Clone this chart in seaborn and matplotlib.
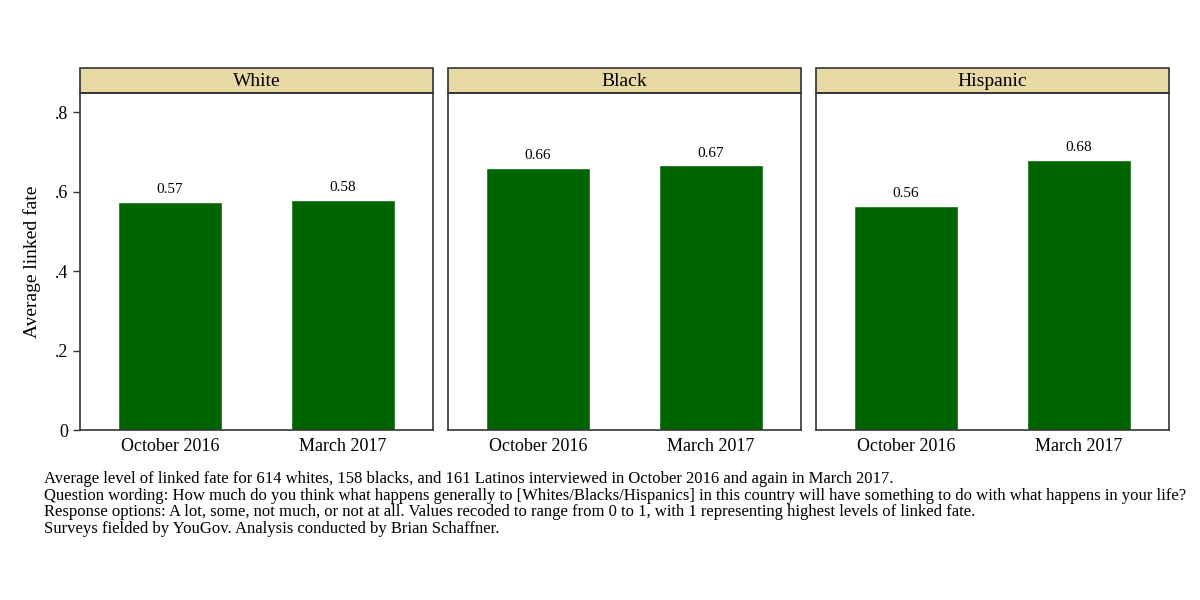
import pandas as pd
import matplotlib.pyplot as plt
import seaborn as sns
from matplotlib.patches import Rectangle

groups = ["White", "Black", "Hispanic"]
waves = ["October 2016", "March 2017"]
white_vals = [0.574, 0.579]
black_vals = [0.660, 0.666]
hispanic_vals = [0.564, 0.680]
yticks = [0, 0.2, 0.4, 0.6, 0.8]
ytick_labels = ["0", ".2", ".4", ".6", ".8"]

caption = (
    "Average level of linked fate for 614 whites, 158 blacks, and 161 Latinos interviewed in October 2016 and again in March 2017.\n"
    "Question wording: How much do you think what happens generally to [Whites/Blacks/Hispanics] in this country will have something to do with what happens in your life?\n"
    "Response options: A lot, some, not much, or not at all. Values recoded to range from 0 to 1, with 1 representing highest levels of linked fate.\n"
    "Surveys fielded by YouGov. Analysis conducted by Brian Schaffner."
)

df = pd.DataFrame({
    "group": [g for g in groups for _ in waves],
    "wave": waves * 3,
    "value": white_vals + black_vals + hispanic_vals,
})

sns.set_theme(style="white")
plt.rcParams["font.family"] = ["Liberation Serif", "DejaVu Serif"]
plt.rcParams["text.color"] = "black"
plt.rcParams["axes.labelcolor"] = "black"

g = sns.catplot(data=df, x="wave", y="value", col="group", col_order=groups,
                kind="bar", color="#006400", saturation=1, width=0.6,
                errorbar=None, height=6, aspect=2 / 3)
fig = g.figure
fig.set_size_inches(12, 6)
fig.subplots_adjust(left=0.0667, right=0.974, bottom=0.2833, top=0.845, wspace=0.0425)

edge = "#333333"
for i, (ax, name) in enumerate(zip(g.axes.flat, groups)):
    ax.set_title("")
    ax.set_xlabel("")
    ax.set_ylim(0, 0.848)
    ax.set_xlim(-0.52, 1.52)
    for sp in ax.spines.values():
        sp.set_visible(True)
        sp.set_color(edge)
        sp.set_linewidth(1.2)
    ax.tick_params(axis="x", length=0, labelsize=13, pad=6, colors="black")
    if i == 0:
        ax.set_yticks(yticks)
        ax.set_yticklabels(ytick_labels)
        ax.tick_params(axis="y", left=True, length=5, width=1, color=edge, labelsize=13, labelcolor="black")
        ax.set_ylabel("Average linked fate", fontsize=14, labelpad=10)
    else:
        ax.set_ylabel("")
        ax.tick_params(axis="y", left=False, labelleft=False)
    ax.bar_label(ax.containers[0], fmt="%.2f", padding=4, fontsize=11, color="black")
    strip = Rectangle((0, 1), 1, 0.0742, transform=ax.transAxes, clip_on=False,
                      facecolor="#E8DAA4", edgecolor=edge, linewidth=1.2)
    ax.add_patch(strip)
    ax.text(0.5, 1.035, name, transform=ax.transAxes, ha="center", va="center", fontsize=14)

fig.text(0.037, 0.215, caption, ha="left", va="top", fontsize=12, linespacing=1.06)

fig.savefig("out.png", dpi=100)
